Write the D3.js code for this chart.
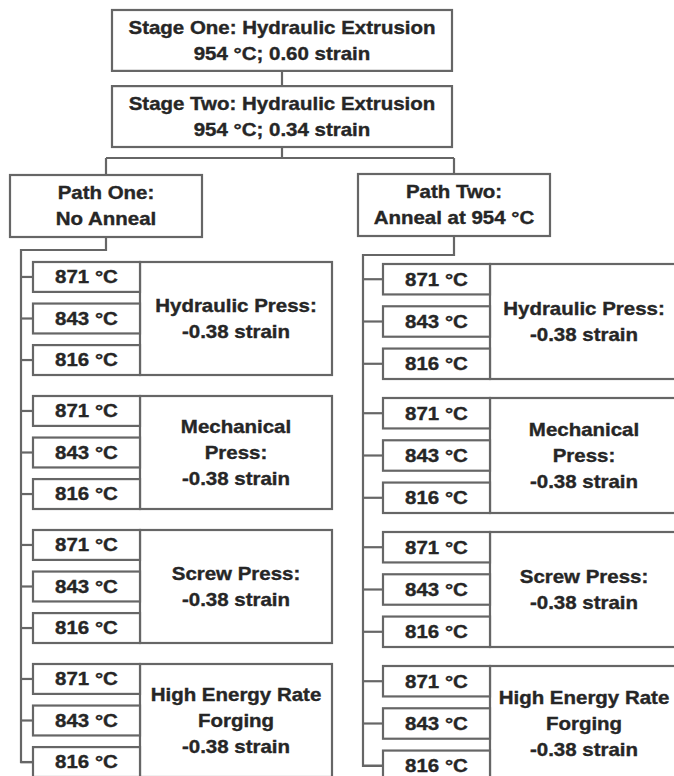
<!DOCTYPE html>
<html>
<head>
<meta charset="utf-8">
<script src="https://cdn.jsdelivr.net/npm/d3@7"></script>
<style>
  html, body { margin: 0; padding: 0; background: #fff; }
  svg { display: block; }
</style>
</head>
<body>
<script>
// ---------- data ----------
const stageLabels = [
  ["Stage One: Hydraulic Extrusion", "954 °C; 0.60 strain"],
  ["Stage Two: Hydraulic Extrusion", "954 °C; 0.34 strain"]
];
const pathLabels = [
  ["Path One:", "No Anneal"],
  ["Path Two:", "Anneal at 954 °C"]
];
const processLabels = [
  ["Hydraulic Press:", "-0.38 strain"],
  ["Mechanical", "Press:", "-0.38 strain"],
  ["Screw Press:", "-0.38 strain"],
  ["High Energy Rate", "Forging", "-0.38 strain"]
];
const temperatures = ["871 °C", "843 °C", "816 °C"];

// ---------- layout ----------
const W = 674, H = 776;
const lineColor = "#666";
const textColor = "#262626";
const sw = 2.2;
const fontSize = 17.5;
const stretch = 1.17;
const lineH = 26;

const svg = d3.select("body").append("svg")
  .attr("width", W).attr("height", H);

const gLines = svg.append("g")
  .attr("fill", "none").attr("stroke", lineColor).attr("stroke-width", sw);
const gBoxes = svg.append("g")
  .attr("fill", "#fff").attr("stroke", lineColor).attr("stroke-width", sw);
const gText = svg.append("g")
  .attr("fill", textColor)
  .attr("stroke", textColor).attr("stroke-width", 0.35)
  .attr("font-family", "'Liberation Sans', Arial, sans-serif")
  .attr("font-weight", "bold")
  .attr("font-size", fontSize)
  .attr("text-anchor", "middle");

function label(lines, cx, cy) {
  const n = lines.length;
  lines.forEach((t, i) => {
    const y = cy + (i - (n - 1) / 2) * lineH;
    gText.append("text")
      .attr("transform", `translate(${cx},${y}) scale(${stretch},1)`)
      .attr("dy", "0.36em")
      .text(t);
  });
}
function box(x, y, w, h) {
  gBoxes.append("rect").attr("x", x).attr("y", y).attr("width", w).attr("height", h);
}
function poly(pts) {
  gLines.append("path").attr("d", d3.line()(pts));
}

// stage boxes (stacked vertically)
const stageY = d3.scaleBand().domain(d3.range(stageLabels.length))
  .range([10, 147]).paddingInner(0.2);
const stageX = 112, stageW = 340, stageCx = stageX + stageW / 2;

// connector between stages
poly([[stageCx, stageY(0) + stageY.bandwidth()], [stageCx, stageY(1)]]);

stageLabels.forEach((lines, i) => {
  box(stageX, stageY(i), stageW, stageY.bandwidth());
  label(lines, stageCx, stageY(i) + stageY.bandwidth() / 2);
});

// column layouts for the two paths
const cols = [
  { boxX: 10, boxY: 175, boxW: 192, boxH: 62, trunkX: 21, elbowY: 250,
    tempX: 33, tempW: 107, bigR: 332, yStart: 262, bw: 113 },
  { boxX: 358, boxY: 174, boxW: 192, boxH: 62, trunkX: 363, elbowY: 255,
    tempX: 383, tempW: 107, bigR: 678, yStart: 264, bw: 115 }
];
const groupStep = 134;
const splitY = 158;
const stageBottom = stageY(1) + stageY.bandwidth();

// split from stage two to paths
poly([[stageCx, stageBottom], [stageCx, splitY]]);
poly([[cols[0].boxX + cols[0].boxW / 2, splitY], [cols[1].boxX + cols[1].boxW / 2, splitY]]);

pathLabels.forEach((lines, p) => {
  const c = cols[p];
  const pcx = c.boxX + c.boxW / 2;
  poly([[pcx, splitY], [pcx, c.boxY]]);

  const groupY = d3.scaleBand().domain(d3.range(processLabels.length))
    .range([c.yStart, c.yStart + (processLabels.length - 1) * groupStep + c.bw])
    .paddingInner((groupStep - c.bw) / groupStep).paddingOuter(0);
  const tempY = d3.scaleBand().domain(temperatures)
    .range([0, groupY.bandwidth()]).paddingInner(0.28).paddingOuter(0);

  const lastY = groupY(processLabels.length - 1) + tempY(temperatures[temperatures.length - 1]) + tempY.bandwidth() / 2;
  // path -> trunk
  poly([[pcx, c.boxY + c.boxH], [pcx, c.elbowY], [c.trunkX, c.elbowY], [c.trunkX, lastY], [c.tempX, lastY]]);

  box(c.boxX, c.boxY, c.boxW, c.boxH);
  label(lines, pcx, c.boxY + c.boxH / 2);

  processLabels.forEach((plines, g) => {
    const gy = groupY(g), gh = groupY.bandwidth();
    const bigX = c.tempX + c.tempW;
    box(bigX, gy, c.bigR - bigX, gh);
    label(plines, (bigX + c.bigR) / 2, gy + gh / 2);
    temperatures.forEach(t => {
      const ty = gy + tempY(t);
      const th = tempY.bandwidth();
      poly([[c.trunkX, ty + th / 2], [c.tempX, ty + th / 2]]);
      box(c.tempX, ty, c.tempW, th);
      label([t], c.tempX + c.tempW / 2, ty + th / 2);
    });
  });
});
</script>
</body>
</html>
